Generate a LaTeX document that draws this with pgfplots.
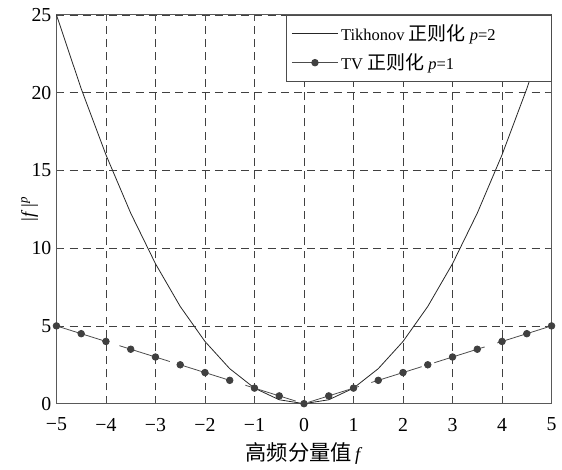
\documentclass[border=0pt]{standalone}
\usepackage{pgfplots}
\pgfplotsset{compat=1.18}
\usetikzlibrary{calc}
\usepackage{fontspec}
\setmainfont{Liberation Serif}
\newfontfamily\cjk[Scale=1.15]{Noto Sans CJK SC}
\begin{document}
\fontsize{12.5pt}{15pt}\selectfont
\begin{tikzpicture}
\begin{axis}[
  name=ax,
  scale only axis,
  width=375pt, height=294.5pt,
  xmin=-5, xmax=5, ymin=0, ymax=25,
  xtick={-5,-4,...,5}, ytick={0,5,...,25},
  xticklabels={−5,−4,−3,−2,−1,0,1,2,3,4,5},
  yticklabels={0,5,10,15,20,25},
  tick align=inside,
  major tick length=4.5pt,
  tick style={black!70, line width=0.5pt},
  axis line style={black!65, line width=0.7pt},
  grid=major,
  major grid style={black!75, dash pattern=on 6pt off 4pt, line width=0.5pt},
  tick label style={font=\fontsize{15pt}{17pt}\selectfont},
  xticklabel style={yshift=-6.5pt},
  yticklabel style={xshift=0.5pt},
  xlabel={{\cjk 高频分量值}\,\textit{f}},
  ylabel={|\textit{f}\,|\textsuperscript{\textit{p}}},
  xlabel style={at={(axis description cs:0.5,-0.127)}, anchor=center, font=\fontsize{14pt}{16pt}\selectfont},
  ylabel style={at={(axis description cs:-0.054,0.5)}, anchor=center, font=\fontsize{14pt}{16pt}\selectfont},
  legend style={at={(1,1)}, anchor=north east, draw=black!70, line width=0.6pt,
    font=\fontsize{12.5pt}{15pt}\selectfont, inner xsep=4pt, inner ysep=5pt, row sep=4pt,
    /tikz/every even column/.append style={column sep=1pt}},
  legend cell align=left,
  legend image code/.code={\draw[#1, solid] (0pt,0pt) -- (35pt,0pt); \draw[#1, solid] plot coordinates {(17.5pt,0pt)};},
]
\addplot[black!85, line width=0.6pt, mark=none] coordinates {
(-5,25) (-4.5,20.25) (-4,16) (-3.5,12.25) (-3,9) (-2.5,6.25) (-2,4) (-1.5,2.25) (-1,1) (-0.5,0.25) (0,0)
(0.5,0.25) (1,1) (1.5,2.25) (2,4) (2.5,6.25) (3,9) (3.5,12.25) (4,16) (4.5,20.25) (5,25)};
\addlegendentry{Tikhonov {\cjk 正则化} \textit{p}=2\hspace*{36pt}}
\addplot[black!70, line width=0.6pt, dash pattern=on 40pt off 10pt, mark=*, mark size=2.5pt, mark options={solid, fill=black!75, draw=black!75}] coordinates {
(-5,5) (-4.5,4.5) (-4,4) (-3.5,3.5) (-3,3) (-2.5,2.5) (-2,2) (-1.5,1.5) (-1,1) (-0.5,0.5) (0,0)
(0.5,0.5) (1,1) (1.5,1.5) (2,2) (2.5,2.5) (3,3) (3.5,3.5) (4,4) (4.5,4.5) (5,5)};
\addlegendentry{TV {\cjk 正则化} \textit{p}=1}
\end{axis}
\path[use as bounding box] ($(ax.south west)+(-42.75pt,-42.2pt)$) rectangle ($(ax.north east)+(3.75pt,11.25pt)$);
\end{tikzpicture}
\end{document}
